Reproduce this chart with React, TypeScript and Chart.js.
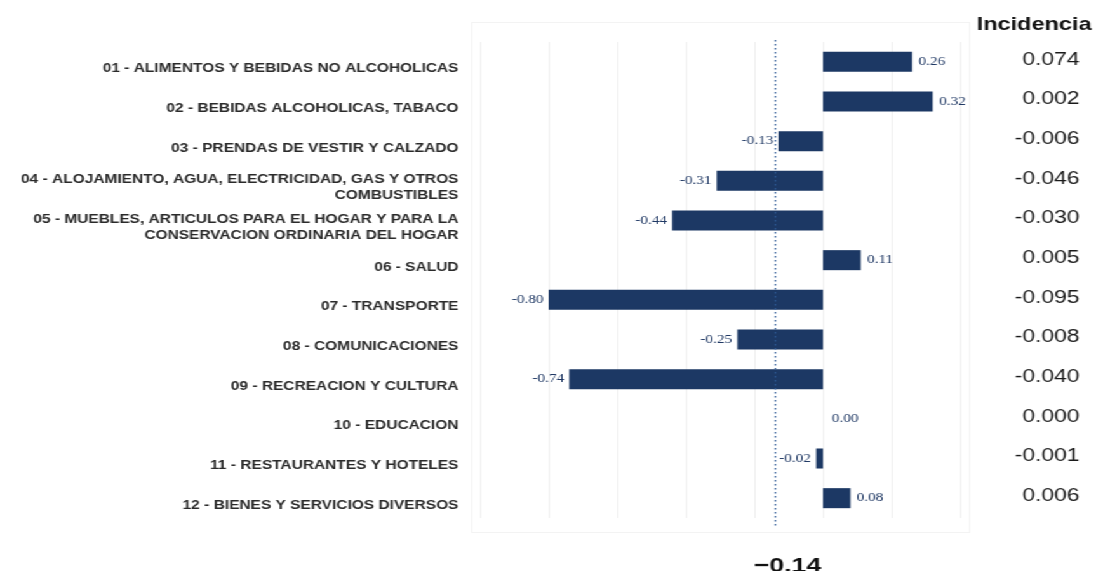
import React, { useEffect, useRef } from "react";
import { Chart, registerables } from "chart.js";

Chart.register(...registerables);

const categories: (string | string[])[] = [
  "01 - ALIMENTOS Y BEBIDAS NO ALCOHOLICAS",
  "02 - BEBIDAS ALCOHOLICAS, TABACO",
  "03 - PRENDAS DE VESTIR Y CALZADO",
  ["04 - ALOJAMIENTO, AGUA, ELECTRICIDAD, GAS Y OTROS", "COMBUSTIBLES"],
  ["05 - MUEBLES, ARTICULOS PARA EL HOGAR Y PARA LA", "CONSERVACION ORDINARIA DEL HOGAR"],
  "06 - SALUD",
  "07 - TRANSPORTE",
  "08 - COMUNICACIONES",
  "09 - RECREACION Y CULTURA",
  "10 - EDUCACION",
  "11 - RESTAURANTES Y HOTELES",
  "12 - BIENES Y SERVICIOS DIVERSOS",
];

const variation = [0.26, 0.32, -0.13, -0.31, -0.44, 0.11, -0.8, -0.25, -0.74, 0.0, -0.02, 0.08];

const incidencia = [0.074, 0.002, -0.006, -0.046, -0.03, 0.005, -0.095, -0.008, -0.04, 0.0, -0.001, 0.006];

const incidenciaTitle = "Incidencia";
const totalVariation = -0.14;
const totalLabel = "\u22120.14";

const xMin = -1.0;
const xMax = 0.4;
const xStep = 0.2;

const STRETCH = 1.27;
const LOGICAL_W = Math.round(1096 / STRETCH);
const H = 571;

const BAR_COLOR = "#1c3864";
const SANS = "'Liberation Sans', Arial, sans-serif";
const SERIF = "'Liberation Serif', 'Times New Roman', serif";

const extrasPlugin = {
  id: "extras",
  beforeDraw(chart: any) {
    const { ctx } = chart;
    ctx.save();
    ctx.fillStyle = "#ffffff";
    ctx.fillRect(0, 0, chart.width, chart.height);
    // faint frame around plot
    ctx.strokeStyle = "#f3f3f3";
    ctx.lineWidth = 1;
    const a = chart.chartArea;
    ctx.strokeRect(a.left - 6.5, a.top - 19.5, a.right - a.left + 14, a.bottom - a.top + 34);
    ctx.restore();
  },
  afterDatasetsDraw(chart: any) {
    const { ctx } = chart;
    const xs = chart.scales.x;
    const ys = chart.scales.y;
    const a = chart.chartArea;
    ctx.save();
    // data labels
    ctx.font = `12px ${SERIF}`;
    ctx.fillStyle = "#1f3864";
    ctx.textBaseline = "middle";
    variation.forEach((v, i) => {
      const y = ys.getPixelForValue(i);
      const x = xs.getPixelForValue(v);
      const txt = v.toFixed(2);
      if (v >= 0) {
        ctx.textAlign = "left";
        ctx.fillText(txt, x + (v === 0 ? 7 : 5), y);
      } else {
        ctx.textAlign = "right";
        ctx.fillText(txt, x - 4, y);
      }
    });
    // dotted total line
    const xt = Math.round(xs.getPixelForValue(totalVariation)) + 0.5;
    ctx.strokeStyle = "#2e5a96";
    ctx.lineWidth = 1.2;
    ctx.setLineDash([1.5, 2.5]);
    ctx.beginPath();
    ctx.moveTo(xt, a.top - 2);
    ctx.lineTo(xt, a.bottom + 10);
    ctx.stroke();
    ctx.setLineDash([]);
    // total label
    ctx.fillStyle = "#111111";
    ctx.font = `bold 21px ${SANS}`;
    ctx.textAlign = "center";
    ctx.textBaseline = "alphabetic";
    ctx.fillText(totalLabel, xt + 9.5, 572);
    // incidencia column
    ctx.font = `bold 18.5px ${SANS}`;
    ctx.textAlign = "left";
    ctx.fillStyle = "#111111";
    ctx.fillText(incidenciaTitle, 769, 30);
    ctx.font = `18px ${SANS}`;
    ctx.fillStyle = "#1a1a1a";
    ctx.textAlign = "right";
    ctx.textBaseline = "middle";
    incidencia.forEach((v, i) => {
      const y = ys.getPixelForValue(i) - 2;
      ctx.fillText(v.toFixed(3), 850, y);
    });
    ctx.restore();
  },
};

export default function App() {
  const canvasRef = useRef<HTMLCanvasElement | null>(null);

  useEffect(() => {
    const canvas = canvasRef.current;
    if (!canvas) return;
    const chart = new Chart(canvas, {
      type: "bar",
      data: {
        labels: categories as any,
        datasets: [
          {
            data: variation,
            backgroundColor: BAR_COLOR,
            borderWidth: 0,
            barPercentage: 0.505,
            categoryPercentage: 1,
          },
        ],
      },
      options: {
        indexAxis: "y",
        animation: false,
        responsive: true,
        maintainAspectRatio: false,
        layout: { padding: { left: 0, right: LOGICAL_W - 756, top: 42, bottom: 53 } },
        plugins: {
          legend: { display: false },
          tooltip: { enabled: false },
          title: { display: false },
        },
        scales: {
          x: {
            type: "linear",
            min: xMin,
            max: xMax,
            ticks: { display: false, stepSize: xStep },
            grid: { color: "#f0f0f0", drawTicks: false, lineWidth: 1 },
            border: { display: false },
            afterFit: (s: any) => {
              s.height = 0;
            },
          },
          y: {
            type: "category",
            ticks: {
              color: "#2a2a2a",
              font: { family: SANS, size: 12.2, weight: "bold", lineHeight: 1.3 },
              padding: 17,
              labelOffset: 7,
              autoSkip: false,
            },
            grid: { display: false, drawTicks: false },
            border: { display: false },
            afterFit: (s: any) => {
              s.width = 378;
            },
          },
        },
      },
      plugins: [extrasPlugin],
    });
    return () => chart.destroy();
  }, []);

  return (
    <div
      style={{
        position: "absolute",
        left: 0,
        top: 0,
        width: LOGICAL_W,
        height: H,
        transform: `scaleX(${STRETCH})`,
        transformOrigin: "0 0",
        background: "#ffffff",
      }}
    >
      <canvas ref={canvasRef} />
    </div>
  );
}
